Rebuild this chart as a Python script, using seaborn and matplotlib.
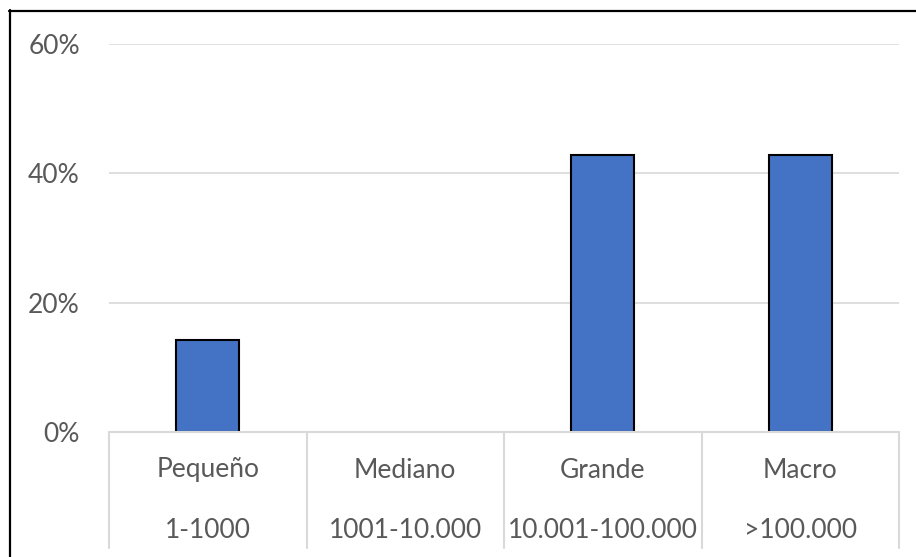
import matplotlib
matplotlib.use("Agg")
import matplotlib.pyplot as plt
from matplotlib.lines import Line2D
import seaborn as sns
import pandas as pd

categories = ["Pequeño", "Mediano", "Grande", "Macro"]
ranges = ["1-1000", "1001-10.000", "10.001-100.000", ">100.000"]
values = [0.143, 0.0, 0.429, 0.429]
yticks = [0.0, 0.2, 0.4, 0.6]
ytick_labels = ["0%", "20%", "40%", "60%"]

sns.set_theme(style="white")
plt.rcParams['font.family'] = ['Lato', 'DejaVu Sans']

W, H = 916, 557
fig = plt.figure(figsize=(W / 100, H / 100), dpi=100)
fig.patch.set_facecolor("white")

x0, x1, ytop, ybot = 109, 899, 44, 432
ax = fig.add_axes([x0 / W, (H - ybot) / H, (x1 - x0) / W, (ybot - ytop) / H])

df = pd.DataFrame({"cat": categories, "val": values})
sns.barplot(data=df, x="cat", y="val", order=categories, color="#4472C4",
            width=0.32, edgecolor="black", linewidth=1.5, saturation=1, ax=ax)
for p in ax.patches:
    if p.get_height() == 0:
        p.set_linewidth(0)

FS = 19
ax.set_xlim(-0.5, len(categories) - 0.5)
ax.set_ylim(0, 0.6)
ax.set_yticks(yticks)
ax.set_yticklabels(ytick_labels, fontsize=FS, color="#595959")
ax.tick_params(axis="y", length=0, pad=21)
ax.set_xticks([])
ax.set_xlabel("")
ax.set_ylabel("")
for s in ax.spines.values():
    s.set_visible(False)
for t in yticks[1:]:
    ax.axhline(t, color="#d9d9d9", linewidth=1.2, zorder=0)
ax.axhline(0, color="#d9d9d9", linewidth=1.5, zorder=3, clip_on=False)

trans = ax.get_xaxis_transform()
sep_bottom = -(548 - ybot) / (ybot - ytop)
for i in range(len(categories) + 1):
    ax.plot([i - 0.5, i - 0.5], [0, sep_bottom], color="#d9d9d9", linewidth=1.5,
            transform=trans, clip_on=False)

row1 = -(470 - ybot) / (ybot - ytop)
row2 = -(530 - ybot) / (ybot - ytop)
for i, (c, r) in enumerate(zip(categories, ranges)):
    ax.text(i, row1, c, transform=trans, ha="center", va="center", fontsize=FS, color="#595959")
    ax.text(i, row2, r, transform=trans, ha="center", va="center", fontsize=FS, color="#595959")

# outer chart border (partially cropped in the reference)
fig.add_artist(Line2D([10 / W, 10 / W], [0, 1 - 10 / H], transform=fig.transFigure,
                      color="black", linewidth=1.6))
fig.add_artist(Line2D([9 / W, 1], [1 - 11 / H, 1 - 11 / H], transform=fig.transFigure,
                      color="black", linewidth=1.6))

fig.savefig("out.png", dpi=100)
